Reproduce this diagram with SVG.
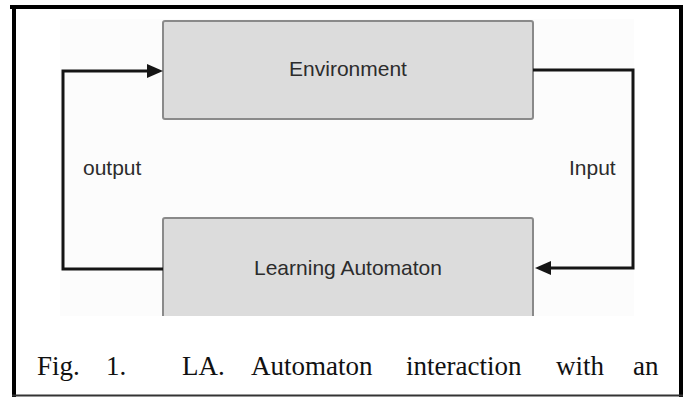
<svg xmlns="http://www.w3.org/2000/svg" width="687" height="397" viewBox="0 0 687 397">
  <defs>
    <style>
      .box { fill: #dcdcdc; stroke: #8a8a8a; stroke-width: 2; }
      .lbl { font-family: "Liberation Sans", Arial, sans-serif; font-size: 21px; fill: #2c2c2c; }
      .conn { fill: none; stroke: #151515; stroke-width: 3; stroke-linejoin: miter; }
      .cap { font-family: "Liberation Serif", "Times New Roman", serif; font-size: 27px; fill: #111; }
    </style>
    <marker id="arrow" markerUnits="userSpaceOnUse" markerWidth="16" markerHeight="14" refX="10" refY="7" orient="auto">
      <path d="M0,0 L16,7 L0,14 Z" fill="#151515"/>
    </marker>
    <clipPath id="imgclip">
      <rect x="60" y="19" width="574" height="297"/>
    </clipPath>
  </defs>

  <rect x="0" y="0" width="687" height="397" fill="#ffffff"/>
  <rect x="60" y="19" width="574" height="297" fill="#fcfcfc"/>

  <g id="environment">
    <rect class="box" x="163" y="21" width="370" height="98" rx="2"/>
    <text class="lbl" x="348" y="76" text-anchor="middle">Environment</text>
  </g>

  <g id="learning-automaton" clip-path="url(#imgclip)">
    <rect class="box" x="163" y="218" width="370" height="110" rx="2"/>
    <text class="lbl" x="348" y="275" text-anchor="middle">Learning Automaton</text>
  </g>

  <g id="connectors">
    <path class="conn" d="M163,269 H63 V71 H157" marker-end="url(#arrow)"/>
    <path class="conn" d="M533,70 H633 V268 H541" marker-end="url(#arrow)"/>
  </g>

  <g id="labels">
    <text class="lbl" x="83" y="175">output</text>
    <text class="lbl" x="569" y="175">Input</text>
  </g>

  <g id="caption">
    <text class="cap" x="37" y="375">Fig.</text>
    <text class="cap" x="106" y="375">1.</text>
    <text class="cap" x="182" y="375">LA.</text>
    <text class="cap" x="251" y="375">Automaton</text>
    <text class="cap" x="406" y="375">interaction</text>
    <text class="cap" x="556" y="375">with</text>
    <text class="cap" x="633" y="375">an</text>
  </g>

  <g id="frame">
    <line x1="10" y1="7" x2="683" y2="7" stroke="#000" stroke-width="4"/>
    <line x1="14" y1="5" x2="14" y2="397" stroke="#000" stroke-width="4"/>
    <line x1="681" y1="5" x2="681" y2="397" stroke="#000" stroke-width="4"/>
    <line x1="12" y1="395.5" x2="683" y2="395.5" stroke="#333" stroke-width="2"/>
  </g>
</svg>
